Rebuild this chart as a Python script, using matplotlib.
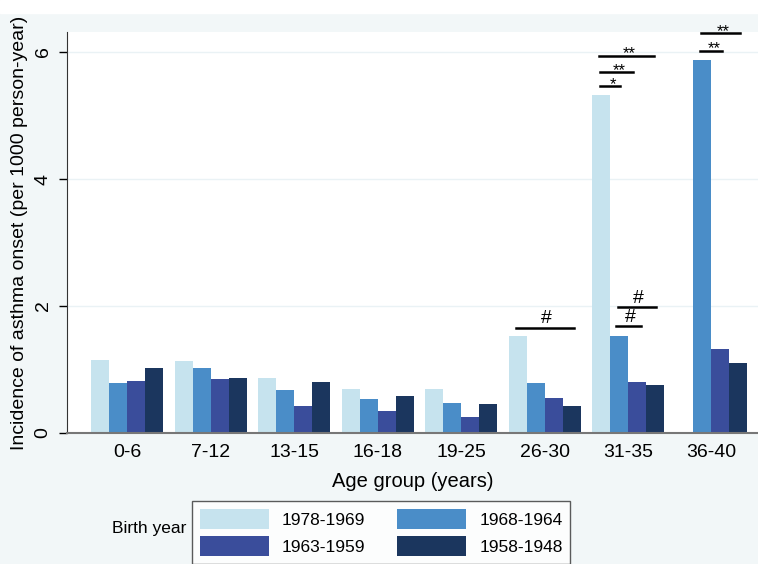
import matplotlib.pyplot as plt
import matplotlib.patches as mpatches
import numpy as np

plt.rcParams['font.family'] = ['Liberation Sans', 'DejaVu Sans']

age_groups = ["0-6", "7-12", "13-15", "16-18", "19-25", "26-30", "31-35", "36-40"]
birth_years = ["1978-1969", "1968-1964", "1963-1959", "1958-1948"]

b1978_1969 = [1.15, 1.13, 0.87, 0.69, 0.69, 1.53, 5.33, np.nan]
b1968_1964 = [0.78, 1.03, 0.67, 0.53, 0.47, 0.79, 1.53, 5.88]
b1963_1959 = [0.82, 0.85, 0.43, 0.34, 0.25, 0.55, 0.80, 1.33]
b1958_1948 = [1.03, 0.87, 0.80, 0.58, 0.45, 0.43, 0.76, 1.10]
series = [b1978_1969, b1968_1964, b1963_1959, b1958_1948]

colors = ["#c6e3ee", "#4a8dc8", "#3a4d9b", "#1b365e"]

# significance marks: (group, height, start, end, label) -- start/end in group units
marks = [
    (5, 1.66, -0.34, 0.35, "#"),
    (6, 5.46, -0.34, -0.10, "*"),
    (6, 5.68, -0.34, 0.06, "**"),
    (6, 5.94, -0.35, 0.31, "**"),
    (6, 1.685, -0.14, 0.16, "#"),
    (6, 1.98, -0.12, 0.33, "#"),
    (7, 6.02, -0.14, 0.12, "**"),
    (7, 6.30, -0.13, 0.34, "**"),
]

fig = plt.figure(figsize=(7.58, 5.64), dpi=100)
fig.patch.set_facecolor("#f2f7f8")
fig.patches.append(mpatches.Rectangle((0, 1 - 13 / 564), 1, 13 / 564,
                                      transform=fig.transFigure, color="white", zorder=0))

ax = fig.add_axes([67 / 758, 1 - 433 / 564, 1 - 67 / 758, (433 - 32) / 564])
ax.set_facecolor("white")

x = np.arange(len(age_groups))
w = 0.2156
bars = []
for i, (vals, c, lab) in enumerate(zip(series, colors, birth_years)):
    bars.append(ax.bar(x + (i - 1.5) * w, vals, width=w, color=c, label=lab, zorder=2))

for g, h, x0, x1, lab in marks:
    ax.plot([g + x0, g + x1], [h, h], color="black", lw=1.8, clip_on=False, zorder=3)
    if lab == "#":
        ax.annotate(lab, ((g + (x0 + x1) / 2 + 0.02), h), xytext=(0, 3), textcoords="offset points",
                    ha="center", va="baseline", fontsize=14, annotation_clip=False)
    else:
        ax.annotate(lab, ((g + (x0 + x1) / 2 + 0.04), h), xytext=(0, -2), textcoords="offset points",
                    ha="center", va="baseline", fontsize=12, annotation_clip=False)

ax.set_xlim(-0.719, 7.557)
ax.set_ylim(0, 6.315)
ax.set_yticks([0, 2, 4, 6])
ax.set_yticklabels(["0", "2", "4", "6"], rotation=90, va="center", fontsize=14)
ax.set_xticks(x)
ax.set_xticklabels(age_groups, fontsize=14)
ax.tick_params(axis="x", length=0, pad=8)
ax.tick_params(axis="y", length=6, width=1, pad=5)
ax.grid(axis="y", color="#eaf2f5", lw=1, zorder=0)
for s in ["top", "right"]:
    ax.spines[s].set_visible(False)
ax.spines["left"].set_color("#333333")
ax.spines["bottom"].set_color("#777777")
ax.spines["bottom"].set_linewidth(1.5)

ax.set_ylabel("Incidence of asthma onset (per 1000 person-year)", fontsize=14, labelpad=5)
ax.set_xlabel("Age group (years)", fontsize=14.5, labelpad=8)

# legend filled row by row like the original
order = [0, 2, 1, 3]
leg = fig.legend([bars[k] for k in order], [birth_years[k] for k in order],
                 loc="upper left", bbox_to_anchor=(191.7 / 758, 1 - 501 / 564), ncol=2,
                 fontsize=12.5, frameon=True, fancybox=False, edgecolor="#333333",
                 handlelength=4.0, handleheight=1.45, handletextpad=0.75, columnspacing=1.8,
                 labelspacing=0.35, borderpad=0.45, borderaxespad=0)
leg.get_frame().set_linewidth(1.0)
fig.text(111.7 / 758, 1 - 528 / 564, "Birth year", fontsize=12.5, ha="left", va="center")

fig.savefig("out.png", dpi=100, facecolor=fig.get_facecolor())
